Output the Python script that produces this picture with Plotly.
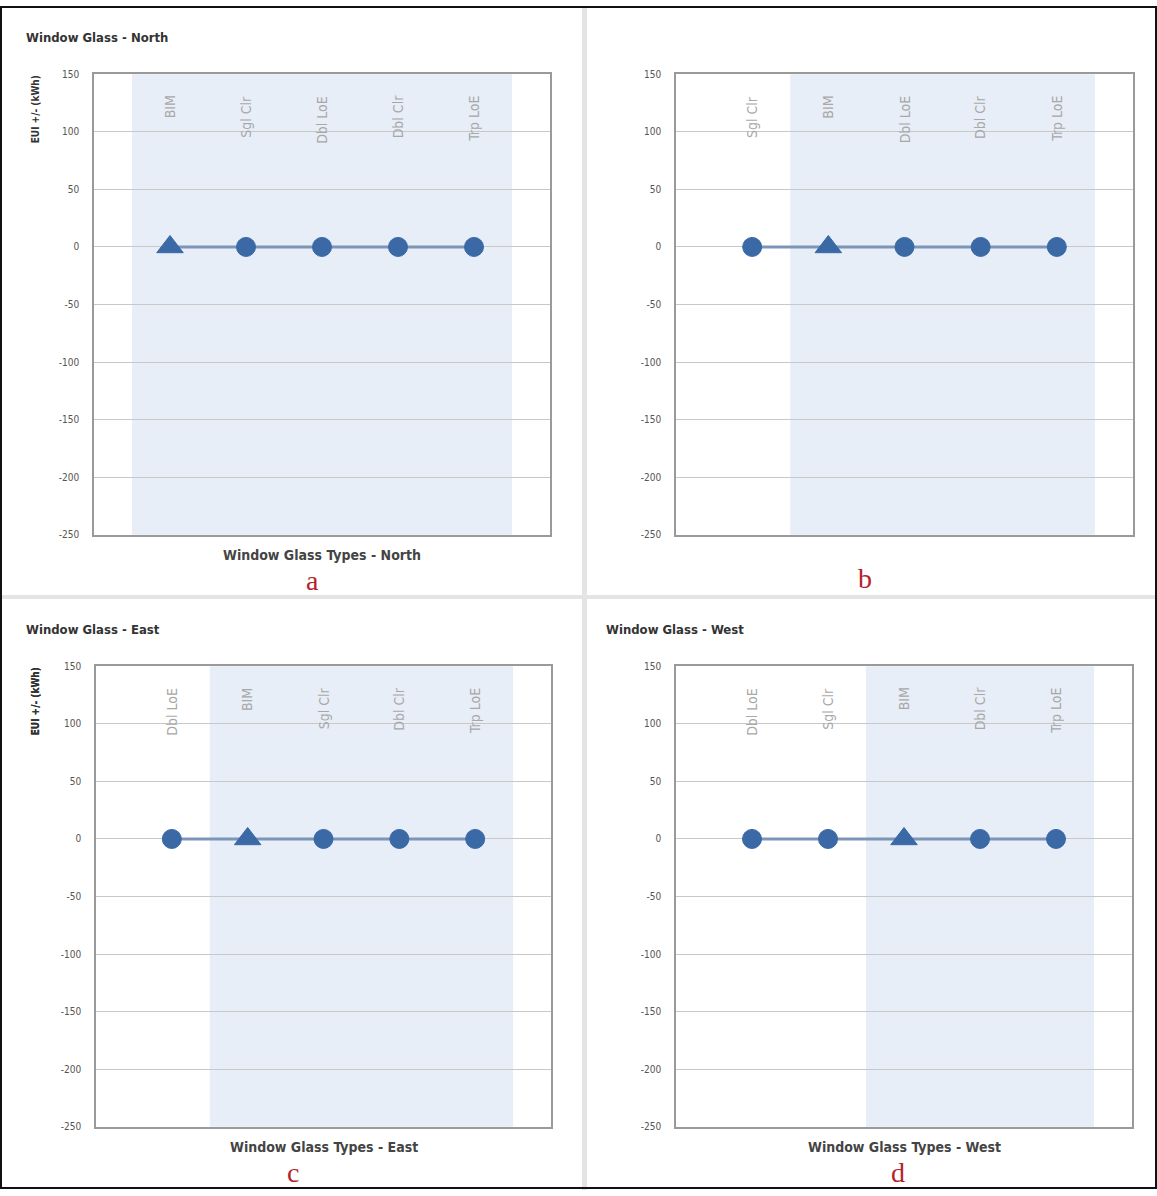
import plotly.graph_objects as go

W, H = 1157, 1196

# ---------------- data ----------------
north_cats = ["BIM", "Sgl Clr", "Dbl LoE", "Dbl Clr", "Trp LoE"]
north_vals = [0, 0, 0, 0, 0]
b_cats = ["Sgl Clr", "BIM", "Dbl LoE", "Dbl Clr", "Trp LoE"]
b_vals = [0, 0, 0, 0, 0]
east_cats = ["Dbl LoE", "BIM", "Sgl Clr", "Dbl Clr", "Trp LoE"]
east_vals = [0, 0, 0, 0, 0]
west_cats = ["Dbl LoE", "Sgl Clr", "BIM", "Dbl Clr", "Trp LoE"]
west_vals = [0, 0, 0, 0, 0]
y_ticks = [150, 100, 50, 0, -50, -100, -150, -200, -250]
y_ticktext = ["150", "100", "50", "0", "-50", "-100", "-150", "-200", "-250"]

titles = ["Window Glass - North", "", "Window Glass - East", "Window Glass - West"]
xtitles = ["Window Glass Types - North", "", "Window Glass Types - East", "Window Glass Types - West"]
ytitle = "EUI +/- (kWh)"
letters = ["a", "b", "c", "d"]

# ---------------- layout helpers ----------------
def px(x):
    return x / W

def py(y):
    return 1 - y / H

panels = [
    dict(cats=north_cats, vals=north_vals, box=(94, 550, 69, 534), title_pos=(24, 32), ytitle=True,
         letter_pos=(312, 580)),
    dict(cats=b_cats, vals=b_vals, box=(676, 1133, 69, 534), title_pos=(604, 32), ytitle=False,
         letter_pos=(865, 578)),
    dict(cats=east_cats, vals=east_vals, box=(96, 551, 667, 1132), title_pos=(24, 630), ytitle=True,
         letter_pos=(293, 1178)),
    dict(cats=west_cats, vals=west_vals, box=(676, 1132, 667, 1132), title_pos=(604, 630), ytitle=True,
         letter_pos=(898, 1178)),
]

COND = "Liberation Sans Narrow, DejaVu Sans Condensed, Roboto Condensed, Arial Narrow, Liberation Sans, sans-serif"
MARKER = "#3a69a5"
LINE = "#7d95b8"
BAND = "#e7eef7"

fig = go.Figure()
shapes = []
annotations = []

for i, p in enumerate(panels):
    n = i + 1
    xa = "x" if n == 1 else f"x{n}"
    ya = "y" if n == 1 else f"y{n}"
    x0, x1, y0, y1 = p["box"]
    cats = p["cats"]
    symbols = ["triangle-up" if c == "BIM" else "circle" for c in cats]
    sizes = [23 if c == "BIM" else 19 for c in cats]
    fig.add_trace(go.Scatter(
        x=cats, y=p["vals"], mode="lines+markers", xaxis=xa, yaxis=ya,
        line=dict(color=LINE, width=3),
        marker=dict(color=MARKER, symbol=symbols, size=sizes, opacity=1,
                    line=dict(width=1, color=MARKER)),
        showlegend=False, hoverinfo="skip"))

    xkey = "xaxis" if n == 1 else f"xaxis{n}"
    ykey = "yaxis" if n == 1 else f"yaxis{n}"
    fig.update_layout({
        xkey: dict(domain=[px(x0), px(x1)], anchor=ya, type="category",
                   categoryorder="array", categoryarray=cats,
                   range=[-1, len(cats)], showgrid=False, showticklabels=False,
                   showline=True, mirror=True, linecolor="#9a9a9a", linewidth=1.5,
                   zeroline=False, fixedrange=True),
        ykey: dict(domain=[py(y1), py(y0)], anchor=xa, range=[y_ticks[-1], y_ticks[0]],
                   tickvals=y_ticks, ticktext=y_ticktext, showgrid=True, gridcolor="#c8c8c8",
                   gridwidth=1, zeroline=False, showline=True, mirror=True, linecolor="#9a9a9a",
                   linewidth=1.5, ticks="", ticklabelstandoff=11,
                   tickfont=dict(size=10, color="#555", family=COND), fixedrange=True),
    })

    # shaded band from BIM to the end
    bim = cats.index("BIM")
    shapes.append(dict(type="rect", xref=xa, yref=f"{ya} domain", x0=bim - 0.5, x1=len(cats) - 0.5,
                       y0=0, y1=1, fillcolor=BAND, line=dict(width=0), layer="below"))

    # category labels (rotated, inside top)
    for c in cats:
        annotations.append(dict(x=c, y=133, xref=xa, yref=ya, text=c, showarrow=False,
                                textangle=-90, yanchor="top", xanchor="center",
                                font=dict(size=14, color="#a8a8a8", family=COND)))

    if titles[i]:
        tx, ty = p["title_pos"]
        annotations.append(dict(x=px(tx), y=py(ty), xref="paper", yref="paper", text=titles[i],
                                showarrow=False, xanchor="left", yanchor="middle",
                                font=dict(size=13, color="#333", family=COND, weight="bold")))
    if xtitles[i]:
        annotations.append(dict(x=px((x0 + x1) / 2), y=py(y1 + 21), xref="paper", yref="paper",
                                text=xtitles[i], showarrow=False, xanchor="center", yanchor="middle",
                                font=dict(size=14, color="#444", family=COND, weight="bold")))
    if p["ytitle"]:
        annotations.append(dict(x=px(35), y=py(y0 - 1), xref="paper", yref="paper", text=ytitle,
                                showarrow=False, textangle=-90, xanchor="center", yanchor="top",
                                font=dict(size=10, color="#333", family=COND, weight="bold")))
    lx, ly = p["letter_pos"]
    annotations.append(dict(x=px(lx), y=py(ly), xref="paper", yref="paper", text=letters[i],
                            showarrow=False, xanchor="center", yanchor="middle",
                            font=dict(size=28, color="#b5232a", family="Liberation Serif, Times New Roman, serif")))

# panel separators
shapes.append(dict(type="rect", xref="paper", yref="paper", x0=px(582), x1=px(587), y0=0, y1=1,
                   fillcolor="#e4e4e4", line=dict(width=0), layer="below"))
shapes.append(dict(type="rect", xref="paper", yref="paper", x0=0, x1=1, y0=py(599), y1=py(595),
                   fillcolor="#e4e4e4", line=dict(width=0), layer="below"))
# outer border
shapes.append(dict(type="rect", xref="paper", yref="paper", x0=px(1), x1=px(W - 1), y0=py(H - 2), y1=py(1),
                   fillcolor="rgba(0,0,0,0)", line=dict(color="#111", width=2), layer="above"))

fig.update_layout(width=W, height=H, margin=dict(l=0, r=0, t=0, b=0),
                  paper_bgcolor="white", plot_bgcolor="rgba(0,0,0,0)",
                  shapes=shapes, annotations=annotations)

fig.write_html("out.html", config={"displayModeBar": False},
               post_script="document.body.style.margin='0';document.body.style.padding='0';"
                           "document.documentElement.style.overflow='hidden';"
                           "var gd=document.getElementsByClassName('plotly-graph-div')[0];"
                           "gd.style.position='absolute';gd.style.top='0px';gd.style.left='0px';")
